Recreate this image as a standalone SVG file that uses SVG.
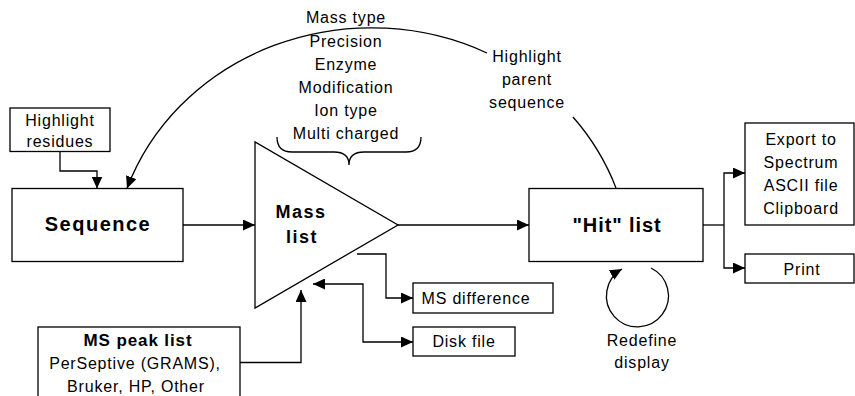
<svg xmlns="http://www.w3.org/2000/svg" width="855" height="396" viewBox="0 0 855 396">
<defs>
<style>
.box{fill:#fff;stroke:#000;stroke-width:1.3}
.ln{fill:none;stroke:#000;stroke-width:1.3}
.t{font-family:"Liberation Sans",Arial,sans-serif;font-size:16px;letter-spacing:0.8px;text-anchor:middle;fill:#000}
.b{font-family:"Liberation Sans",Arial,sans-serif;font-weight:bold;text-anchor:middle;fill:#000}
</style>
<marker id="ah" viewBox="0 0 12 11" refX="12" refY="5.5" markerWidth="12" markerHeight="11" markerUnits="userSpaceOnUse" orient="auto-start-reverse">
<path d="M0,0 L12,5.5 L0,11 z" fill="#000"/>
</marker>
</defs>
<rect width="855" height="396" fill="#fff"/>

<g id="connectors">
<path class="ln" d="M60,151.5 V171 H97 V188.5" marker-end="url(#ah)"/>
<path class="ln" d="M616,188 A259,240 0 0 0 573,117"/>
<path class="ln" d="M487,53 A259,240 0 0 0 127,188.5" marker-end="url(#ah)"/>
<path class="ln" d="M183,225 H255" marker-end="url(#ah)"/>
<path class="ln" d="M398,225 H529" marker-end="url(#ah)"/>
<path class="ln" d="M703,225 H724"/>
<path class="ln" d="M745,173 H724 V268 H745" marker-start="url(#ah)" marker-end="url(#ah)"/>
<path class="ln" d="M357,254 H386 V298 H413" marker-end="url(#ah)"/>
<path class="ln" d="M313,284 H363 V342 H413" marker-start="url(#ah)" marker-end="url(#ah)"/>
<path class="ln" d="M240,362.5 H301 V290" marker-end="url(#ah)"/>
<path class="ln" d="M651,268 A31,31 0 1 1 622,269" marker-end="url(#ah)"/>
</g>

<g id="highlight-residues">
<rect class="box" x="10" y="108" width="100" height="43.5"/>
<text class="t" x="60" y="125.5">Highlight</text>
<text class="t" x="60" y="147">residues</text>
</g>

<g id="sequence">
<rect class="box" x="12" y="188.5" width="171" height="73"/>
<text class="b" x="98" y="231" font-size="20" letter-spacing="1.5">Sequence</text>
</g>

<g id="mass-list">
<path class="box" d="M255,142 L255,308 L398,225 Z"/>
<text class="b" x="301" y="218" font-size="18" letter-spacing="1.5">Mass</text>
<text class="b" x="302" y="243" font-size="18" letter-spacing="1.5">list</text>
</g>

<g id="parameters">
<path class="ln" d="M277,137 Q277,152 292,152 L334,152 Q349,152 349,165 Q349,152 364,152 L406,152 Q421,152 421,137"/>
<text class="t" x="346" y="23">Mass type</text>
<text class="t" x="346" y="46.5">Precision</text>
<text class="t" x="346" y="69.5">Enzyme</text>
<text class="t" x="346" y="93">Modification</text>
<text class="t" x="346" y="116">Ion type</text>
<text class="t" x="346" y="139">Multi charged</text>
</g>

<g id="highlight-parent">
<text class="t" x="527" y="61.5">Highlight</text>
<text class="t" x="527" y="84.5">parent</text>
<text class="t" x="527" y="107.5">sequence</text>
</g>

<g id="hit-list">
<rect class="box" x="529" y="188.5" width="174" height="73"/>
<text class="b" x="617" y="231.5" font-size="20" letter-spacing="0.9">"Hit" list</text>
</g>

<g id="export">
<rect class="box" x="745" y="123" width="109" height="102"/>
<text class="t" x="801" y="145">Export to</text>
<text class="t" x="801" y="168">Spectrum</text>
<text class="t" x="801" y="191">ASCII file</text>
<text class="t" x="801" y="214">Clipboard</text>
</g>

<g id="print">
<rect class="box" x="745" y="254" width="109" height="29"/>
<text class="t" x="802" y="275">Print</text>
</g>

<g id="redefine-display">
<text class="t" x="642" y="346">Redefine</text>
<text class="t" x="642" y="368">display</text>
</g>

<g id="ms-difference">
<rect class="box" x="413" y="283" width="140" height="30"/>
<text class="t" x="476" y="304" letter-spacing="1.2">MS difference</text>
</g>

<g id="disk-file">
<rect class="box" x="413" y="327" width="102" height="29"/>
<text class="t" x="464" y="347">Disk file</text>
</g>

<g id="ms-peak-list">
<rect class="box" x="38" y="327" width="202" height="80"/>
<text class="b" x="138" y="345.5" font-size="17" letter-spacing="0.9">MS peak list</text>
<text class="t" x="135" y="369" letter-spacing="1.1">PerSeptive (GRAMS),</text>
<text class="t" x="136" y="391.5">Bruker, HP, Other</text>
</g>
</svg>
